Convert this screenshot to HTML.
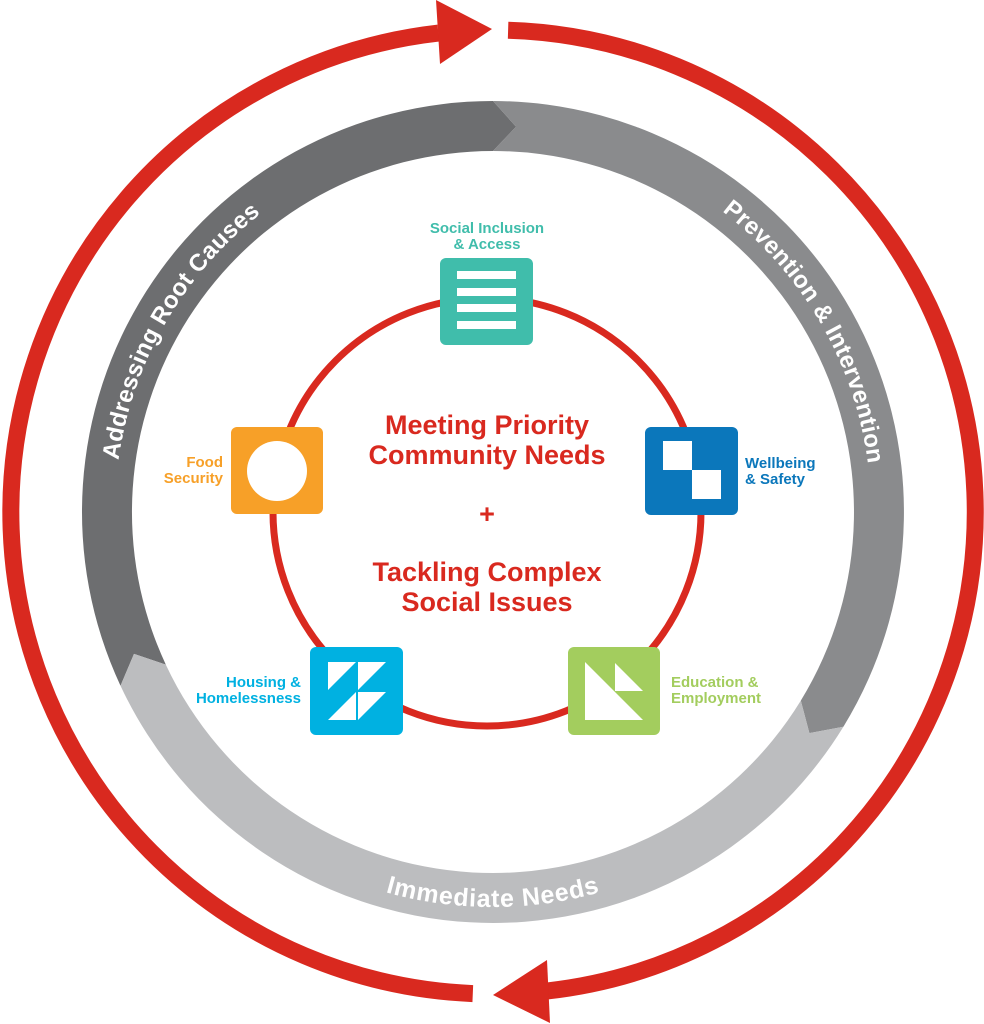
<!DOCTYPE html>
<html><head><meta charset="utf-8">
<style>
html,body{margin:0;padding:0;background:#fff;}
svg{display:block;}
text{font-family:"Liberation Sans",sans-serif;font-weight:bold;}
</style></head>
<body>
<svg id="s" width="984" height="1024" viewBox="0 0 984 1024" xmlns="http://www.w3.org/2000/svg">
<defs>
<path id="pl" d=""/>
<path id="pr" d=""/>
<path id="pb" d=""/>
</defs>
<g id="ring"></g>
<text font-size="24" fill="#fff" letter-spacing="0.3"><textPath href="#pl" startOffset="50%" text-anchor="middle">Addressing Root Causes</textPath></text>
<text font-size="24" fill="#fff" letter-spacing="0.3"><textPath href="#pr" startOffset="50%" text-anchor="middle">Prevention &amp; Intervention</textPath></text>
<text font-size="25" fill="#fff" letter-spacing="0.8"><textPath href="#pb" startOffset="50%" text-anchor="middle">Immediate Needs</textPath></text>

<g id="red" fill="none" stroke="#d9291f" stroke-width="17"></g>
<polygon points="492,29 436,0 440,64" fill="#d9291f"/>
<polygon points="493,995 547,960 550,1023" fill="#d9291f"/>

<circle cx="487" cy="512" r="214" fill="none" stroke="#d9291f" stroke-width="7"/>

<g fill="#d9291f" font-size="27" text-anchor="middle">
<text x="487" y="434">Meeting Priority</text>
<text x="487" y="464">Community Needs</text>
<text x="487" y="523">+</text>
<text x="487" y="581">Tackling Complex</text>
<text x="487" y="611">Social Issues</text>
</g>

<rect x="440" y="258" width="93" height="87" rx="6" fill="#40bdab"/>
<g fill="#fff"><rect x="457" y="271" width="59" height="8"/><rect x="457" y="288" width="59" height="8"/><rect x="457" y="304" width="59" height="8"/><rect x="457" y="321" width="59" height="8"/></g>
<g fill="#40bdab" font-size="15" text-anchor="middle"><text x="487" y="233">Social Inclusion</text><text x="487" y="249">&amp; Access</text></g>

<rect x="231" y="427" width="92" height="87" rx="6" fill="#f7a028"/>
<circle cx="277" cy="471" r="30" fill="#fff"/>
<g fill="#f7a028" font-size="15" text-anchor="end"><text x="223" y="467">Food</text><text x="223" y="483">Security</text></g>

<rect x="645" y="427" width="93" height="88" rx="6" fill="#0b77bb"/>
<rect x="663" y="441" width="29" height="29" fill="#fff"/><rect x="692" y="470" width="29" height="29" fill="#fff"/>
<g fill="#0b77bb" font-size="15"><text x="745" y="468">Wellbeing</text><text x="745" y="484">&amp; Safety</text></g>

<rect x="310" y="647" width="93" height="88" rx="6" fill="#00b1e1"/>
<g fill="#fff">
<polygon points="328,662 356,662 328,690"/>
<polygon points="358,662 386,662 358,690"/>
<polygon points="356,692 356,720 328,720"/>
<polygon points="358,692 386,692 358,720"/>
</g>
<g fill="#00b1e1" font-size="15" text-anchor="end"><text x="301" y="687">Housing &amp;</text><text x="301" y="703">Homelessness</text></g>

<rect x="568" y="647" width="92" height="88" rx="6" fill="#a3cd5e"/>
<g fill="#fff"><polygon points="585,662 585,720 643,720"/><polygon points="615,663 615,691 643,691"/></g>
<g fill="#a3cd5e" font-size="15"><text x="671" y="687">Education &amp;</text><text x="671" y="703">Employment</text></g>
</svg>
<script>
var cx=493,cy=512,R=411,r=361,m=386,d=0.06;
function P(rad,a){return (cx+rad*Math.cos(a)).toFixed(1)+','+(cy+rad*Math.sin(a)).toFixed(1);}
function rad(x){return x*Math.PI/180;}
function seg(a0,a1,col){
 a0=rad(a0);a1=rad(a1);
 var big=(a1-a0)>Math.PI?1:0;
 var dd='M'+P(R,a0)+' A'+R+','+R+' 0 '+big+' 1 '+P(R,a1)+' L'+P(m,a1+d)+' L'+P(r,a1)+' A'+r+','+r+' 0 '+big+' 0 '+P(r,a0)+' L'+P(m,a0+d)+' Z';
 return '<path d="'+dd+'" fill="'+col+'"/>';
}
document.getElementById('ring').innerHTML=seg(155,270,'#6d6e70')+seg(270,391.5,'#8a8b8d')+seg(31.5,155,'#bcbdbf');
function arc(rr,a0,a1,sw){
 var big=Math.abs(a1-a0)>180?1:0;
 return 'M'+P(rr,rad(a0))+' A'+rr+','+rr+' 0 '+big+' '+sw+' '+P(rr,rad(a1));
}
document.getElementById('pl').setAttribute('d',arc(378,150,270,1));
document.getElementById('pr').setAttribute('d',arc(378,270,390,1));
document.getElementById('pb').setAttribute('d',arc(395,150,30,0));
var rr=482;
document.getElementById('red').innerHTML='<path d="'+arc(rr,92.4,263.5,1)+'"/><path d="'+arc(rr,271.8,443.5,1)+'"/>';
</script>
</body></html>
